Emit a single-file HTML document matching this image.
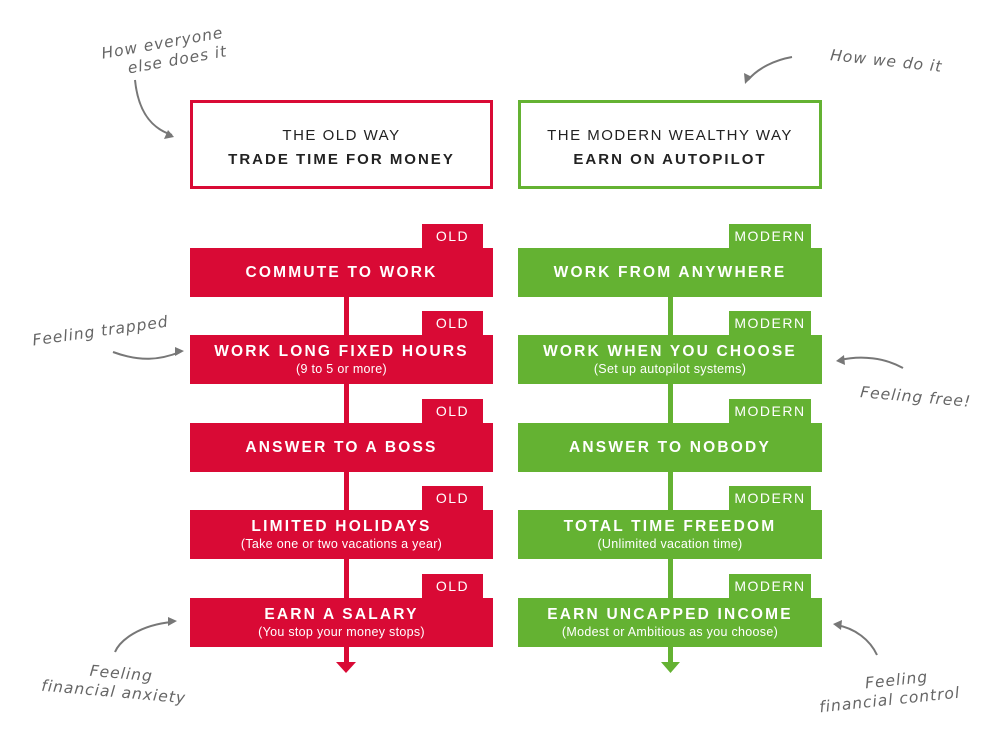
<!DOCTYPE html>
<html><head><meta charset="utf-8"><style>
body{margin:0;width:995px;height:734px;background:#fff;position:relative;overflow:hidden;font-family:"Liberation Sans",sans-serif}
.a{position:absolute}
.hdr{position:absolute;top:100px;height:89px;box-sizing:border-box;border:3px solid;background:#fff;text-align:center;color:#222}
.hdr .t1{margin-top:24px;font-size:15px;letter-spacing:1.5px}
.hdr .t2{margin-top:7px;font-size:15px;font-weight:bold;letter-spacing:2px}
.bar{position:absolute;height:49px;color:#fff;text-align:center;box-sizing:border-box}
.bar .m{font-weight:bold;font-size:15.5px;letter-spacing:2.2px}
.bar .s{font-size:12.5px;letter-spacing:.3px;margin-top:1px}
.tag{position:absolute;height:24px;color:#fff;font-size:14px;letter-spacing:1.5px;text-align:center;line-height:25px}
.r{background:#d90a35}.g{background:#64b232}
.hw{position:absolute;font-family:"DejaVu Sans",sans-serif;font-style:italic;color:#666;font-size:15.5px;font-weight:300;letter-spacing:1px;line-height:19px}
</style></head><body>
<div class="hdr" style="left:190px;width:303px;border-color:#d90a35"><div class="t1">THE OLD WAY</div><div class="t2">TRADE TIME FOR MONEY</div></div>
<div class="hdr" style="left:518px;width:304px;border-color:#64b232"><div class="t1">THE MODERN WEALTHY WAY</div><div class="t2">EARN ON AUTOPILOT</div></div>

<div class="a r" style="left:344px;top:297px;width:5px;height:366px"></div>
<div class="a g" style="left:668px;top:297px;width:5px;height:366px"></div>
<svg class="a" style="left:0;top:0" width="995" height="734">
<polygon points="336,662 356,662 346,673" fill="#d90a35"/>
<polygon points="661,662 680,662 670.5,673" fill="#64b232"/>
<g fill="none" stroke="#777" stroke-width="2">
<path d="M135,80 C138,110 150,128 172,135"/>
<path d="M792,57 C775,60 758,68 748,80"/>
<path d="M113,352 C140,362 160,360 180,352"/>
<path d="M903,368 C885,358 862,355 840,360"/>
<path d="M115,652 C120,640 140,625 172,622"/>
<path d="M877,655 C870,640 855,628 836,625"/>
</g>
<g fill="#777">
<polygon points="174,137 164,139 168,130"/>
<polygon points="745,84 744,73 752,77"/>
<polygon points="184,351 175,356 175,347"/>
<polygon points="836,361 844,355 845,365"/>
<polygon points="177,621 168,626 168,617"/>
<polygon points="833,624 842,620 841,630"/>
</g>
</svg>

<div class="tag r" style="left:422px;top:224px;width:61px">OLD</div>
<div class="bar r" style="left:190px;top:248px;width:303px;padding-top:16px"><div class="m">COMMUTE TO WORK</div></div>
<div class="tag r" style="left:422px;top:311px;width:61px">OLD</div>
<div class="bar r" style="left:190px;top:335px;width:303px;padding-top:8px"><div class="m">WORK LONG FIXED HOURS</div><div class="s">(9 to 5 or more)</div></div>
<div class="tag r" style="left:422px;top:399px;width:61px">OLD</div>
<div class="bar r" style="left:190px;top:423px;width:303px;padding-top:16px"><div class="m">ANSWER TO A BOSS</div></div>
<div class="tag r" style="left:422px;top:486px;width:61px">OLD</div>
<div class="bar r" style="left:190px;top:510px;width:303px;padding-top:8px"><div class="m">LIMITED HOLIDAYS</div><div class="s">(Take one or two vacations a year)</div></div>
<div class="tag r" style="left:422px;top:574px;width:61px">OLD</div>
<div class="bar r" style="left:190px;top:598px;width:303px;padding-top:8px"><div class="m">EARN A SALARY</div><div class="s">(You stop your money stops)</div></div>

<div class="tag g" style="left:729px;top:224px;width:82px">MODERN</div>
<div class="bar g" style="left:518px;top:248px;width:304px;padding-top:16px"><div class="m">WORK FROM ANYWHERE</div></div>
<div class="tag g" style="left:729px;top:311px;width:82px">MODERN</div>
<div class="bar g" style="left:518px;top:335px;width:304px;padding-top:8px"><div class="m">WORK WHEN YOU CHOOSE</div><div class="s">(Set up autopilot systems)</div></div>
<div class="tag g" style="left:729px;top:399px;width:82px">MODERN</div>
<div class="bar g" style="left:518px;top:423px;width:304px;padding-top:16px"><div class="m">ANSWER TO NOBODY</div></div>
<div class="tag g" style="left:729px;top:486px;width:82px">MODERN</div>
<div class="bar g" style="left:518px;top:510px;width:304px;padding-top:8px"><div class="m">TOTAL TIME FREEDOM</div><div class="s">(Unlimited vacation time)</div></div>
<div class="tag g" style="left:729px;top:574px;width:82px">MODERN</div>
<div class="bar g" style="left:518px;top:598px;width:304px;padding-top:8px"><div class="m">EARN UNCAPPED INCOME</div><div class="s">(Modest or Ambitious as you choose)</div></div>

<div class="hw" style="left:102px;top:34px;transform:rotate(-10deg);text-align:center">How everyone<br>&nbsp;&nbsp;&nbsp;&nbsp;else does it</div>
<div class="hw" style="left:830px;top:52px;transform:rotate(6deg)">How we do it</div>
<div class="hw" style="left:32px;top:322px;transform:rotate(-8deg)">Feeling trapped</div>
<div class="hw" style="left:860px;top:388px;transform:rotate(5deg)">Feeling free!</div>
<div class="hw" style="left:42px;top:664px;transform:rotate(5deg);text-align:center">&nbsp;&nbsp;Feeling<br>financial anxiety</div>
<div class="hw" style="left:818px;top:672px;transform:rotate(-6deg);text-align:center">&nbsp;&nbsp;&nbsp;Feeling<br>financial control</div>
</body></html>
